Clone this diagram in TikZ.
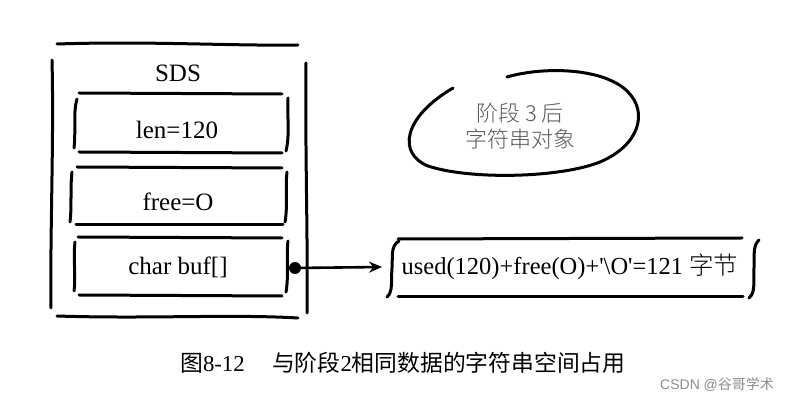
\documentclass[tikz,border=0pt]{standalone}
\usepackage{fontspec}
\setmainfont{Liberation Serif}
\newfontfamily\rawserif{Liberation Serif}[Ligatures=TeXOff]
\newfontfamily\cjk{Noto Sans CJK SC}
\newfontfamily\cjkl{Noto Sans CJK SC Light}
\newfontfamily\wm{Liberation Sans}
\usetikzlibrary{arrows.meta}
\begin{document}
\begin{tikzpicture}[x=1pt,y=-1pt,
  hand/.style={line width=3pt,line cap=round,black},
  boxtext/.style={font=\fontsize{25}{27}\selectfont,inner sep=0pt},
  ovaltext/.style={font=\cjkl\fontsize{22}{26}\selectfont,text=black!65,align=center,inner sep=0pt},
  captext/.style={font=\fontsize{22.8}{24}\selectfont,inner sep=0pt,anchor=west},
  wmtext/.style={font=\wm\fontsize{14}{16}\selectfont,text=black!45,inner sep=0pt,anchor=west}]
\useasboundingbox (0,0) rectangle (807,403);
% outer SDS box
\draw[hand] (57,44) .. controls (150,41) and (230,46) .. (298,45);
\draw[hand] (57,316) .. controls (150,319) and (230,314) .. (298,318);
\draw[hand] (52,60) .. controls (54,140) and (50,230) .. (51,308);
\draw[hand] (306,63) .. controls (305,150) and (308,240) .. (307,313);
\node[boxtext] (sds) at (178,73) {SDS};
% box 1
\draw[hand] (79,93) -- (282,94);
\draw[hand] (79,152) -- (282,153);
\draw[hand] (77,99) .. controls (73,112) and (76,130) .. (74,148);
\draw[hand] (288,98) .. controls (287,115) and (290,135) .. (286,151);
\node[boxtext] (len) at (177,130) {len=120};
% box 2
\draw[hand] (77,167) -- (282,168);
\draw[hand] (76,225) -- (283,225);
\draw[hand] (72,172) .. controls (70,190) and (72,205) .. (70,222);
\draw[hand] (287,172) .. controls (285,190) and (288,205) .. (285,222);
\node[boxtext] (free) at (178,202) {free=O};
% box 3
\draw[hand] (78,237) -- (282,238);
\draw[hand] (79,295) -- (282,296);
\draw[hand] (75,242) .. controls (73,258) and (76,275) .. (74,291);
\draw[hand] (288,241) .. controls (286,258) and (289,275) .. (286,292);
\node[boxtext] (buf) at (178,267) {char buf[]};
% pointer
\node[circle,fill=black,inner sep=0pt,minimum size=12pt] (dot) at (295,268) {};
% right box
\draw[hand] (398,239) -- (742,238);
\draw[hand] (398,297) -- (743,297);
\draw[hand] (399,241) .. controls (390,246) and (393,258) .. (392,268) .. controls (391,282) and (393,292) .. (387,297);
\draw[hand] (759,240) .. controls (752,246) and (755,258) .. (754,268) .. controls (753,282) and (756,292) .. (749,298);
\node[font=\rawserif\fontsize{24.5}{26}\selectfont,inner sep=0pt] (str) at (570,267) {used(120)+free(O)+'\textbackslash O'=121 {\cjkl 字节}};
\coordinate (tip) at (382,267);
\draw[line width=2.6pt,-{Stealth[length=13pt,width=11pt]}] (dot.center) -- (tip);
% oval
\draw[hand] (507,77) .. controls (545,66) and (605,68) .. (628,92) .. controls (648,112) and (640,145) .. (600,162) .. controls (560,178) and (470,180) .. (428,166) .. controls (398,154) and (402,118) .. (453,88);
\node[ovaltext] (oval) at (520,126) {阶段 3 后\\字符串对象};
% caption
\node[captext] (cap) at (180,363) {{\cjk 图}8-12\hspace{1.2em}{\cjk 与阶段}2{\cjk 相同数据的字符串空间占用}};
\node[wmtext] (wm) at (660,385) {CSDN @{\cjk 谷哥学术}};
\end{tikzpicture}
\end{document}
